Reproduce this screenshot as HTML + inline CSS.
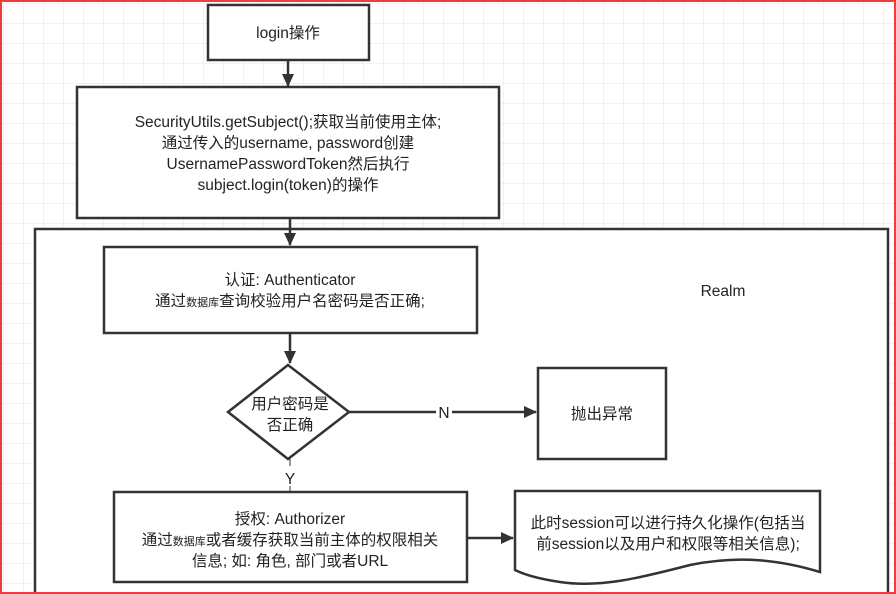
<!DOCTYPE html>
<html><head><meta charset="utf-8"><style>
html,body{margin:0;padding:0;background:#fff}
svg{display:block}
text{font-family:"Liberation Sans","Noto Sans CJK SC",sans-serif;font-size:15.5px;fill:#222}
</style></head><body>
<svg width="896" height="594" viewBox="0 0 896 594" xmlns="http://www.w3.org/2000/svg">
<defs>
<pattern id="g" width="20" height="20" patternUnits="userSpaceOnUse" x="4" y="4">
<path d="M20 0V20M0 20H20" fill="none" stroke="#e6e6e6" stroke-width="1"/>
</pattern>
<marker id="a" markerWidth="14" markerHeight="14" refX="12" refY="7" orient="auto" markerUnits="userSpaceOnUse">
<path d="M0,1 L13,7 L0,13 z" fill="#333"/>
</marker>
</defs>
<rect width="896" height="594" fill="#fff"/>
<rect width="896" height="594" fill="url(#g)"/>
<g stroke="#333" stroke-width="2.5" fill="#fff">
<rect x="35" y="229" width="853" height="380"/>
<rect x="208" y="5" width="161" height="55"/>
<rect x="77" y="87" width="422" height="131"/>
<rect x="104" y="247" width="373" height="86"/>
<polygon points="288,365 349,412 288,459 228,412"/>
<rect x="538" y="368" width="128" height="91"/>
<rect x="114" y="492" width="353" height="90"/>
<path d="M515,491 H820 V572 C780,560 740,555 690,565 C640,578 600,588 560,582 C540,579 525,575 515,570 Z"/>
</g>
<g stroke="#333" stroke-width="2.5" fill="none" marker-end="url(#a)">
<line x1="288" y1="60" x2="288" y2="86"/>
<line x1="290" y1="218" x2="290" y2="245"/>
<line x1="290" y1="333" x2="290" y2="363"/>
<line x1="349" y1="412" x2="536" y2="412"/>
<line x1="467" y1="538" x2="513" y2="538"/>
</g>
<line x1="290" y1="459" x2="290" y2="492" stroke="#333" stroke-width="1"/>
<rect x="436" y="402" width="16" height="20" fill="#fff"/>
<rect x="282" y="466" width="16" height="20" fill="#fff"/>
<rect x="0" y="0" width="896" height="594" fill="none" stroke="#f03c3c" stroke-width="4"/>
<g text-anchor="middle">
<text x="288" y="38">login操作</text>
<text x="288" y="127">SecurityUtils.getSubject();获取当前使用主体;</text>
<text x="288" y="148">通过传入的username, password创建</text>
<text x="288" y="169">UsernamePasswordToken然后执行</text>
<text x="288" y="190">subject.login(token)的操作</text>
<text x="290" y="285">认证: Authenticator</text>
<text x="290" y="306">通过<tspan font-size="11">数据库</tspan>查询校验用户名密码是否正确;</text>
<text x="723" y="296">Realm</text>
<text x="290" y="409">用户密码是</text>
<text x="290" y="430">否正确</text>
<text x="444" y="418">N</text>
<text x="602" y="419">抛出异常</text>
<text x="290" y="484">Y</text>
<text x="290" y="524">授权: Authorizer</text>
<text x="290" y="545">通过<tspan font-size="11">数据库</tspan>或者缓存获取当前主体的权限相关</text>
<text x="290" y="566">信息; 如: 角色, 部门或者URL</text>
<text x="668" y="528">此时session可以进行持久化操作(包括当</text>
<text x="668" y="549">前session以及用户和权限等相关信息);</text>
</g>
</svg>
</body></html>
